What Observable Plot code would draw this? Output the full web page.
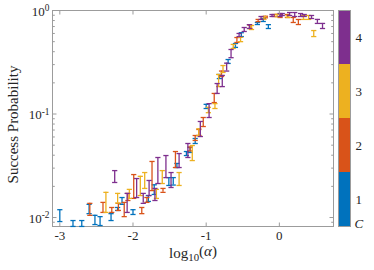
<!DOCTYPE html>
<html><head><meta charset="utf-8">
<script src="https://cdn.jsdelivr.net/npm/d3@7"></script>
<script src="https://cdn.jsdelivr.net/npm/@observablehq/plot@0.6"></script>
<style>
body{margin:0;background:#fff}
#wrap{position:relative;width:374px;height:270px}
#wrap svg{position:absolute;left:0;top:0}
#wrap svg, #wrap svg text{font-family:"Liberation Serif","DejaVu Serif",serif}
</style>
</head><body><div id="wrap"></div>
<script>
// ---- data ----
const cValues = [1, 2, 3, 4];
const cColors = ["#0072BD", "#D95319", "#EDB120", "#7E2F8E"];
const xTicks = [-3, -2, -1, 0];
const yMajor = [0.01, 0.1, 1];
const yMinor = [0.009, 0.02, 0.03, 0.04, 0.05, 0.06, 0.07, 0.08, 0.09, 0.2, 0.3, 0.4, 0.5, 0.6, 0.7, 0.8, 0.9];

const c1Alpha = [-3.00,-2.82,-2.70,-2.60,-2.52,-2.45,-2.30,-2.21,-2.15,-2.00,-1.79,-1.71,-1.51,-1.45,-1.40,-1.27,-1.22,-1.15,-1.00,-0.82,-0.70,-0.60,-0.52,-0.30,-0.22,-0.15];
const c1Lo    = [0.00914,0.0082,0.0082,0.0109,0.00855,0.00837,0.00935,0.0117,0.0134,0.0107,0.0143,0.0167,0.0204,0.0206,0.0304,0.0397,0.0425,0.0519,0.113,0.220,0.308,0.44,0.56,0.732,0.783,0.67];
const c1Hi    = [0.0119,0.00935,0.00935,0.0134,0.0105,0.0102,0.0109,0.0125,0.0156,0.0119,0.0163,0.0207,0.0243,0.0243,0.0333,0.0434,0.0475,0.0580,0.124,0.241,0.336,0.48,0.61,0.766,0.837,0.73];

const c2Alpha = [-2.59,-2.41,-2.29,-2.20,-2.12,-2.07,-1.99,-1.88,-1.81,-1.74,-1.59,-1.42,-1.22,-1.15,-1.10,-1.04,-0.89,-0.79,-0.58,-0.40,-0.29,-0.19,-0.07,0.01,0.11,0.19,0.26];
const c2Lo    = [0.0105,0.0112,0.0112,0.0117,0.0102,0.0146,0.0153,0.0109,0.0140,0.0182,0.0175,0.0304,0.044,0.0555,0.062,0.0757,0.129,0.23,0.491,0.67,0.78,0.85,0.875,0.856,0.856,0.766,0.732];
const c2Hi    = [0.0137,0.0140,0.0125,0.0137,0.0140,0.0171,0.0260,0.0125,0.0156,0.0348,0.0191,0.0434,0.048,0.0620,0.0709,0.0925,0.158,0.26,0.548,0.72,0.82,0.88,0.915,0.915,0.915,0.856,0.819];

const c3Alpha = [-2.37,-2.21,-2.05,-1.90,-1.84,-1.68,-1.60,-1.37,-1.19,-1.10,-0.97,-0.88,-0.83,-0.77,-0.63,-0.53,-0.38,-0.21,-0.03,0.12,0.33,0.40,0.47];
const c3Lo    = [0.0112,0.0138,0.0153,0.0163,0.0191,0.0153,0.0213,0.0204,0.0355,0.062,0.103,0.113,0.184,0.252,0.43,0.50,0.655,0.82,0.87,0.856,0.82,0.82,0.56];
const c3Hi    = [0.0175,0.0171,0.0187,0.025,0.0272,0.0187,0.0284,0.0272,0.0496,0.072,0.116,0.126,0.241,0.294,0.47,0.55,0.716,0.875,0.92,0.895,0.895,0.895,0.64];

const c4Alpha = [-2.25,-2.08,-1.95,-1.86,-1.78,-1.70,-1.66,-1.55,-1.48,-1.37,-1.25,-1.08,-0.96,-0.85,-0.78,-0.72,-0.66,-0.55,-0.48,-0.41,-0.25,-0.10,0.01,0.04,0.14,0.21,0.29,0.34,0.44,0.52,0.59];
const c4Lo    = [0.0218,0.0112,0.0156,0.0137,0.0163,0.0146,0.0213,0.0243,0.0195,0.0304,0.0380,0.0606,0.0925,0.158,0.184,0.26,0.35,0.56,0.627,0.67,0.82,0.875,0.875,0.895,0.895,0.875,0.875,0.875,0.837,0.75,0.67];
const c4Hi    = [0.0284,0.0171,0.0238,0.0171,0.0228,0.0191,0.0380,0.0397,0.0272,0.0415,0.0519,0.0847,0.126,0.197,0.236,0.31,0.42,0.60,0.685,0.73,0.875,0.915,0.935,0.935,0.956,0.956,0.935,0.915,0.895,0.82,0.75];

const series = [
  {C: 1, alpha: c1Alpha, lo: c1Lo, hi: c1Hi},
  {C: 2, alpha: c2Alpha, lo: c2Lo, hi: c2Hi},
  {C: 3, alpha: c3Alpha, lo: c3Lo, hi: c3Hi},
  {C: 4, alpha: c4Alpha, lo: c4Lo, hi: c4Hi}
];

// ---- helpers ----
const line = (dx, dy) => ({draw(ctx, size) { const r = Math.sqrt(size / Math.PI); ctx.moveTo(0, 0); ctx.lineTo(dx * r, dy * r); }});
const capSym = {draw(ctx, size) { const r = Math.sqrt(size / Math.PI); ctx.moveTo(-r, 0); ctx.lineTo(r, 0); }};
const FONT = "Liberation Serif";
const AX = "#9c9c9c";
const TXT = "#262626";

const marks = [Plot.frame({stroke: AX, strokeWidth: 1})];
for (const s of series) {
  const rows = s.alpha.map((a, i) => ({alpha: a, lo: s.lo[i], hi: s.hi[i], C: s.C}));
  marks.push(
    Plot.ruleX(rows, {x: "alpha", y1: "lo", y2: "hi", stroke: "C", strokeWidth: 1.3}),
    Plot.dot(rows, {x: "alpha", y: "lo", symbol: capSym, r: 2.6, stroke: "C", strokeWidth: 1.3}),
    Plot.dot(rows, {x: "alpha", y: "hi", symbol: capSym, r: 2.6, stroke: "C", strokeWidth: 1.3})
  );
}
marks.push(
  // inward ticks
  Plot.dot(xTicks, {x: d => d, frameAnchor: "bottom", symbol: line(0, -1), r: 4, stroke: AX, strokeWidth: 1}),
  Plot.dot(xTicks, {x: d => d, frameAnchor: "top", symbol: line(0, 1), r: 4, stroke: AX, strokeWidth: 1}),
  Plot.dot(yMajor, {y: d => d, frameAnchor: "left", symbol: line(1, 0), r: 4, stroke: AX, strokeWidth: 1}),
  Plot.dot(yMajor, {y: d => d, frameAnchor: "right", symbol: line(-1, 0), r: 4, stroke: AX, strokeWidth: 1}),
  Plot.dot(yMinor, {y: d => d, frameAnchor: "left", symbol: line(1, 0), r: 2.3, stroke: AX, strokeWidth: 1}),
  Plot.dot(yMinor, {y: d => d, frameAnchor: "right", symbol: line(-1, 0), r: 2.3, stroke: AX, strokeWidth: 1}),
  // tick labels
  Plot.text(xTicks, {x: d => d, frameAnchor: "bottom", text: d => String(d), dy: 13, fill: TXT, fontSize: 13, fontFamily: FONT}),
  Plot.text(yMajor, {y: d => d, frameAnchor: "left", text: d => "10^" + Math.round(Math.log10(d)), textAnchor: "end", dx: -3, dy: 1, fill: TXT, fontSize: 13, fontFamily: FONT}),
  // axis titles
  Plot.text(["log10(α)"], {frameAnchor: "bottom", text: d => d, textAnchor: "middle", dy: 31, fill: TXT, fontSize: 15, fontFamily: FONT}),
  Plot.text(["Success Probability"], {frameAnchor: "left", text: d => d, textAnchor: "middle", rotate: -90, dx: -39, dy: 6, fill: TXT, fontSize: 15, fontFamily: FONT})
);

const main = Plot.plot({
  width: 374, height: 270,
  marginLeft: 52, marginRight: 41, marginTop: 10, marginBottom: 44,
  style: {background: "white", overflow: "visible"},
  x: {domain: [-3.1, 0.74], axis: null},
  y: {type: "log", domain: [0.00819, 1], axis: null},
  color: {domain: cValues, range: cColors},
  marks
});

// superscripts on y tick labels, subscript in x title
d3.select(main).selectAll("text").each(function() {
  const t = d3.select(this);
  const s = this.textContent;
  if (/^10\^-?\d+$/.test(s)) {
    const [base, exp] = s.split("^");
    t.text(base);
    t.append("tspan").attr("dy", "-0.45em").attr("font-size", "0.72em").text(exp);
  } else if (s === "log10(α)") {
    t.text("log");
    t.append("tspan").attr("dy", "0.3em").attr("font-size", "0.72em").text("10");
    t.append("tspan").attr("dy", "-0.3em").text("(");
    t.append("tspan").attr("font-style", "italic").text("α");
    t.append("tspan").text(")");
  }
});

const cb = Plot.plot({
  width: 374, height: 270,
  marginLeft: 338, marginRight: 24, marginTop: 10, marginBottom: 44,
  style: {background: "transparent", overflow: "visible"},
  x: {axis: null},
  y: {domain: [0.5, 4.5], axis: null},
  color: {domain: cValues, range: cColors},
  marks: [
    Plot.rect(cValues, {y1: d => d - 0.5, y2: d => d + 0.5, fill: d => d}),
    Plot.frame({stroke: AX, strokeWidth: 1}),
    Plot.text(cValues, {y: d => d, text: d => String(d), frameAnchor: "right", textAnchor: "start", dx: 5, fill: TXT, fontSize: 13, fontFamily: FONT}),
    Plot.text(["C"], {frameAnchor: "bottom-right", text: d => d, textAnchor: "start", dx: 4, dy: 1, fill: TXT, fontSize: 13, fontStyle: "italic", fontFamily: FONT})
  ]
});

const wrap = document.getElementById("wrap");
wrap.appendChild(main);
wrap.appendChild(cb);
</script>
</body></html>
